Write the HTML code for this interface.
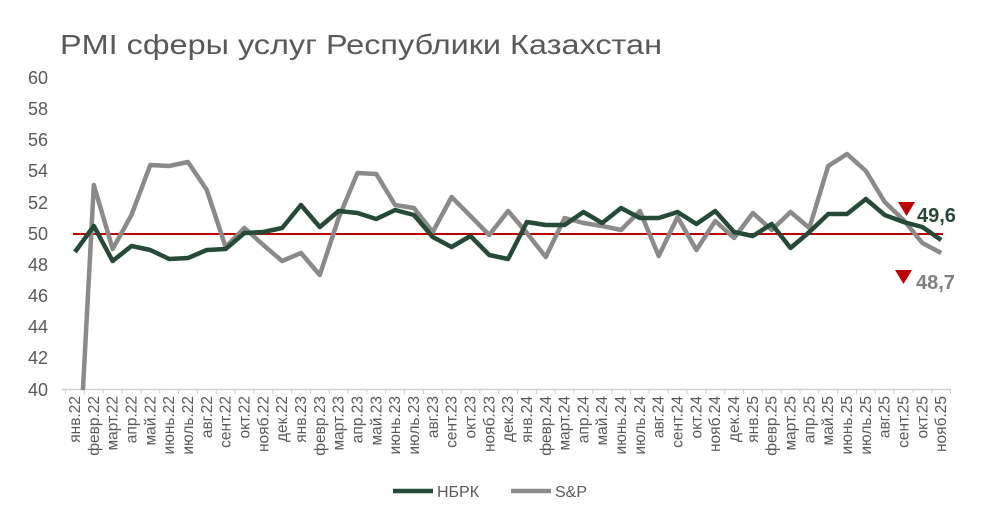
<!DOCTYPE html>
<html><head><meta charset="utf-8"><style>
body{margin:0;background:#fff;}
svg text{font-family:"Liberation Sans",sans-serif;}
</style></head><body>
<svg width="988" height="519" viewBox="0 0 988 519" xmlns="http://www.w3.org/2000/svg">
<text x="60" y="54" font-size="28" fill="#595959" textLength="602" lengthAdjust="spacingAndGlyphs">PMI сферы услуг Республики Казахстан</text>
<g font-size="18" fill="#595959" text-anchor="end">
<text x="48" y="84">60</text><text x="48" y="115">58</text><text x="48" y="146">56</text><text x="48" y="177">54</text><text x="48" y="209">52</text><text x="48" y="240">50</text><text x="48" y="271">48</text><text x="48" y="302">46</text><text x="48" y="333">44</text><text x="48" y="364">42</text><text x="48" y="396">40</text>
</g>
<line x1="62" y1="389.5" x2="951" y2="389.5" stroke="#d0d0d0" stroke-width="1.5"/>
<g id="ticks" stroke="#d0d0d0" stroke-width="1"></g>
<defs><clipPath id="c"><rect x="55" y="60" width="900" height="330"/></clipPath></defs>
<line x1="73" y1="234" x2="943" y2="234" stroke="#c00000" stroke-width="2"/>
<g clip-path="url(#c)" fill="none" stroke-linejoin="round" stroke-width="4.5">
<polyline id="sp" stroke="#8a8a8a"/>
<polyline id="nb" stroke="#254b38"/>
</g>
<polygon points="898,202 915,202 906.5,216" fill="#c00000"/>
<text x="917" y="222" font-size="20" font-weight="bold" fill="#254b38">49,6</text>
<polygon points="895,270 912,270 903.5,284" fill="#c00000"/>
<text x="916" y="289" font-size="20" font-weight="bold" fill="#808080">48,7</text>
<g id="xl" font-size="15.5" fill="#595959" text-anchor="end"></g>
<line x1="393" y1="491" x2="433" y2="491" stroke="#254b38" stroke-width="4.5"/>
<text x="437" y="497" font-size="16" fill="#595959">НБРК</text>
<line x1="511" y1="491" x2="551" y2="491" stroke="#8a8a8a" stroke-width="4.5"/>
<text x="555" y="497" font-size="16" fill="#595959">S&amp;P</text>
</svg>
<script>
var nb=[252,226,261,246,250,259,258,250,249,233,232,228,205,227,211,213,219,210,215,237,247,236,255,259,222,225,225,212,223,208,218,218,212,224,211,232,236,224,248,232,214,214,199,215,222,227,240];
var sp=[539,185,249,215,165,166,162,190,247,228,245,261,253,275,218,173,174,205,208,232,197,216,235,211,233,257,218,223,226,230,211,256,217,250,221,238,213,230,212,228,166,154,171,202,220,243,253];
var m=["янв.","февр.","март.","апр.","май.","июнь.","июль.","авг.","сент.","окт.","нояб.","дек."];
function X(i){return 75+i*18.83;}
document.getElementById('nb').setAttribute('points',nb.map((v,i)=>X(i)+','+v).join(' '));
document.getElementById('sp').setAttribute('points',sp.map((v,i)=>X(i)+','+v).join(' '));
var ns="http://www.w3.org/2000/svg",xl=document.getElementById('xl'),tk=document.getElementById('ticks');
for(var i=0;i<47;i++){var t=document.createElementNS(ns,'text');var x=X(i)+5;
t.setAttribute('transform','translate('+x+',396) rotate(-90)');t.textContent=m[i%12]+(22+Math.floor(i/12));xl.appendChild(t);}
for(var i=0;i<=47;i++){var l=document.createElementNS(ns,'line');var x=X(i)-9.4;l.setAttribute('x1',x);l.setAttribute('x2',x);l.setAttribute('y1',389);l.setAttribute('y2',394);tk.appendChild(l);}
</script>
</body></html>
